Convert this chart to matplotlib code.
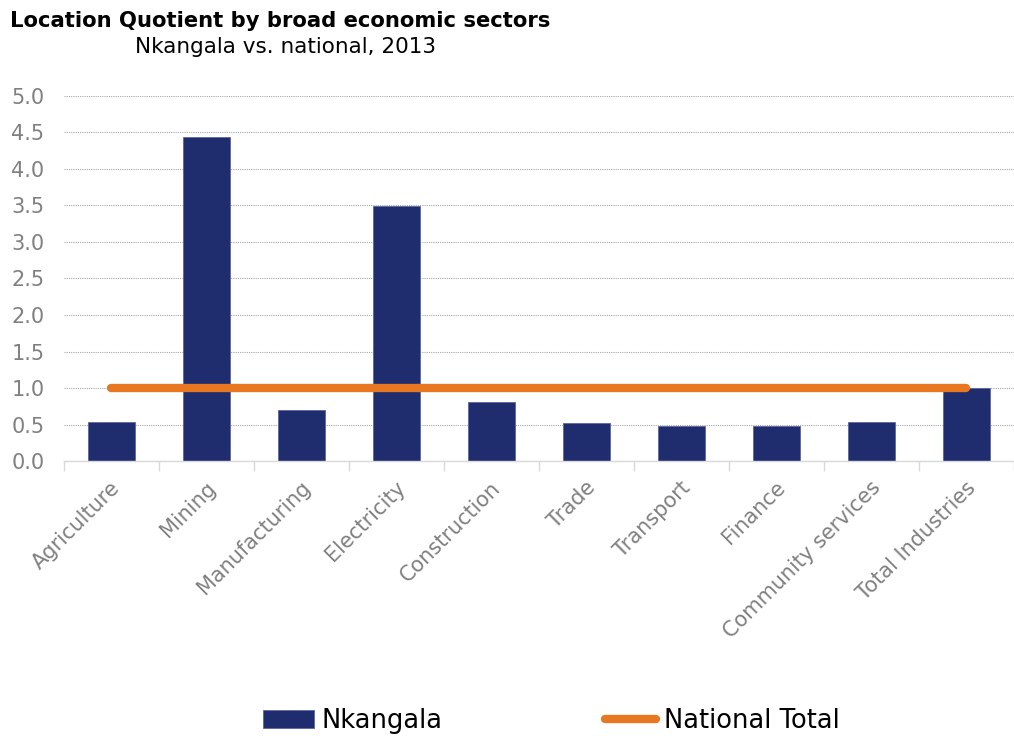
import numpy as np
import matplotlib
matplotlib.use('Agg')
import matplotlib.pyplot as plt
import matplotlib.transforms as mtransforms

# data
sectors = ['Agriculture', 'Mining', 'Manufacturing', 'Electricity', 'Construction',
           'Trade', 'Transport', 'Finance', 'Community services', 'Total Industries']
nkangala = [0.54, 4.44, 0.70, 3.49, 0.81, 0.52, 0.48, 0.48, 0.54, 1.00]
national = [1.0] * len(sectors)
yticks = [0.0, 0.5, 1.0, 1.5, 2.0, 2.5, 3.0, 3.5, 4.0, 4.5, 5.0]

navy = '#1F2D6E'
orange = '#E87722'
grey = '#808080'

plt.rcParams['font.family'] = ['DejaVu Sans']

fig = plt.figure(figsize=(10.14, 7.38), dpi=100)
ax = fig.add_axes([0.063, 0.3753, 0.937, 0.4947])

x = np.arange(len(sectors))
bars = ax.bar(x, nkangala, width=0.5, color=navy, edgecolor='#5A66A0', linewidth=0.6,
              label='Nkangala', zorder=2)
line, = ax.plot(x, national, color=orange, linewidth=6, solid_capstyle='round',
                label='National Total', zorder=3)

ax.set_xlim(-0.5, 9.365)
ax.set_ylim(0, 5.0)
ax.set_yticks(yticks)
ax.set_yticklabels(['{:.1f}'.format(v) for v in yticks])
ax.yaxis.grid(True, linestyle=(0, (1, 1)), color='#A6A6A6', linewidth=0.8, zorder=0)
ax.set_axisbelow(True)

for s in ['top', 'right', 'left']:
    ax.spines[s].set_visible(False)
ax.spines['bottom'].set_color('#D9D9D9')
ax.spines['bottom'].set_linewidth(1.0)

ax.tick_params(axis='y', length=0, pad=14, labelsize=15, labelcolor=grey)

# category boundary ticks
ax.set_xticks(x)
ax.set_xticks(np.arange(-0.5, len(sectors), 1.0), minor=True)
ax.tick_params(axis='x', which='major', length=0, pad=17, labelsize=15, labelcolor=grey)
ax.tick_params(axis='x', which='minor', length=7, color='#D9D9D9', width=1)
ax.set_xticklabels(sectors, rotation=45, ha='right', va='center', rotation_mode='anchor')
offset = mtransforms.ScaledTranslation(6 / 100, 0, fig.dpi_scale_trans)
for lab in ax.get_xticklabels():
    lab.set_transform(lab.get_transform() + offset)

fig.text(0.010, 0.972, 'Location Quotient by broad economic sectors', fontsize=15.2,
         fontweight='bold', ha='left', va='center')
fig.text(0.133, 0.936, 'Nkangala vs. national, 2013', fontsize=15.5, ha='left', va='center')

fig.legend([bars, line], ['Nkangala', 'National Total'], loc='center',
           bbox_to_anchor=(551 / 1014, 1 - 721 / 738), ncol=2,
           frameon=False, fontsize=18.5, handlelength=2.0, handletextpad=0.3,
           columnspacing=6.3)

fig.savefig('out.png', dpi=100)
